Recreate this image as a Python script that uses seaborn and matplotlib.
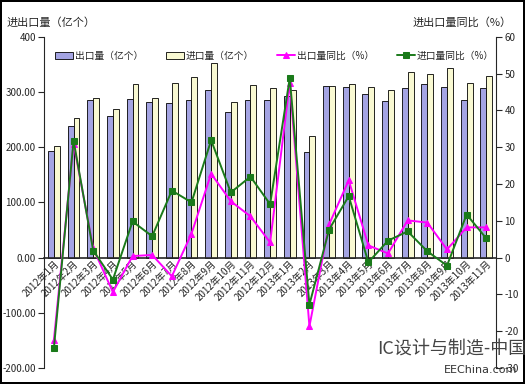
import numpy as np
import pandas as pd
import matplotlib
matplotlib.use("Agg")
import matplotlib.pyplot as plt
import seaborn as sns

months = ["2012年1月", "2012年2月", "2012年3月", "2012年4月", "2012年5月", "2012年6月",
          "2012年7月", "2012年8月", "2012年9月", "2012年10月", "2012年11月", "2012年12月",
          "2013年1月", "2013年2月", "2013年3月", "2013年4月", "2013年5月", "2013年6月",
          "2013年7月", "2013年8月", "2013年9月", "2013年10月", "2013年11月"]
export_qty = [194, 238, 285, 256, 287, 282, 280, 285, 304, 264, 285, 285,
              293, 192, 311, 309, 296, 284, 307, 315, 309, 285, 307]
import_qty = [203, 253, 290, 269, 315, 290, 316, 327, 353, 282, 313, 307,
              304, 220, 311, 315, 309, 304, 336, 333, 344, 316, 329]
export_yoy = [-22.3, 31.0, 2.5, -9.4, 0.4, 0.7, -5.1, 6.5, 22.8, 15.3, 11.2, 4.1,
              47.5, -18.7, 9.0, 21.0, 3.3, 1.1, 10.1, 9.5, 2.2, 8.2, 8.2]
import_yoy = [-24.5, 31.8, 1.9, -6.0, 9.8, 5.8, 18.2, 15.0, 31.9, 17.7, 22.0, 14.5,
              48.8, -12.8, 7.6, 16.7, -1.3, 4.6, 7.1, 1.7, -2.2, 11.7, 5.2]

label_exp = "出口量（亿个）"
label_imp = "进口量（亿个）"
label_exp_yoy = "出口量同比（%）"
label_imp_yoy = "进口量同比（%）"

sns.set_style("white")
plt.rcParams["font.family"] = ["Noto Sans CJK SC", "DejaVu Sans"]
plt.rcParams["axes.unicode_minus"] = False

df = pd.DataFrame({
    "month": months * 2,
    "value": export_qty + import_qty,
    "series": [label_exp] * len(months) + [label_imp] * len(months),
})

fig = plt.figure(figsize=(5.25, 3.84), dpi=100)
fig.patch.set_edgecolor("black")
fig.patch.set_linewidth(1.5)
ax = fig.add_axes([0.084, 0.042, 0.861, 0.862])

sns.barplot(data=df, x="month", y="value", hue="series", order=months,
            palette={label_exp: "#9999ee", label_imp: "#ffffcc"},
            width=0.6, gap=0, edgecolor="black", linewidth=0.6, ax=ax)
ax.set_ylim(-200, 400)
ax.set_xlim(-0.5, len(months) - 0.5)
ax.set_yticks([-200, -100, 0, 100, 200, 300, 400])
ax.set_yticklabels(["-200.00", "-100.00", "0.00", "100.00", "200.00", "300.00", "400"])
ax.set_xlabel("")
ax.set_ylabel("")
ax.spines["top"].set_visible(False)
ax.spines["right"].set_visible(False)
ax.spines["bottom"].set_position(("data", 0))
ax.spines["bottom"].set_linewidth(1.2)
ax.spines["left"].set_linewidth(0.8)
ax.tick_params(axis="y", direction="out", length=4, width=0.8, labelsize=7, pad=2, left=True)
ax.tick_params(axis="x", direction="out", length=0, labelsize=7, pad=1)
for lbl in ax.get_xticklabels():
    lbl.set_rotation(45)
    lbl.set_ha("right")
    lbl.set_rotation_mode("anchor")

ax2 = ax.twinx()
idx = np.arange(len(months))
sns.lineplot(x=idx, y=export_yoy, color="#ff00ff", marker="^", markersize=5,
             markeredgecolor="#ff00ff", linewidth=1.4, label=label_exp_yoy, ax=ax2)
sns.lineplot(x=idx, y=import_yoy, color="#1a7a1a", marker="s", markersize=5,
             markeredgecolor="#1a7a1a", linewidth=1.4, label=label_imp_yoy, ax=ax2)
ax2.set_ylim(-30, 60)
ax2.set_yticks(np.arange(-30, 61, 10))
ax2.spines["top"].set_visible(False)
ax2.spines["left"].set_visible(False)
ax2.spines["bottom"].set_visible(False)
ax2.spines["right"].set_linewidth(0.8)
ax2.tick_params(axis="y", direction="out", length=4, width=0.8, labelsize=7, pad=2, right=True)

h1, l1 = ax.get_legend_handles_labels()
h2, l2 = ax2.get_legend_handles_labels()
ax.get_legend().remove()
ax2.get_legend().remove()
ax2.legend(h1 + h2, l1 + l2, ncol=4, loc="upper center", bbox_to_anchor=(0.51, 0.985),
           frameon=False, fontsize=7, columnspacing=2.4, handlelength=1.8,
           handletextpad=0.2)

fig.text(0.013, 0.942, "进出口量（亿个）", fontsize=8, ha="left", va="center")
fig.text(0.975, 0.942, "进出口量同比（%）", fontsize=8, ha="right", va="center")

fig.text(0.718, 0.089, "IC设计与制造-中国", fontsize=13, color="#444444",
         ha="left", va="center", zorder=10)
fig.text(0.845, 0.036, "EEChina.com", fontsize=8, color="#333333",
         ha="left", va="center", family=["DejaVu Sans"], zorder=10)

fig.savefig("out.png", dpi=100)
